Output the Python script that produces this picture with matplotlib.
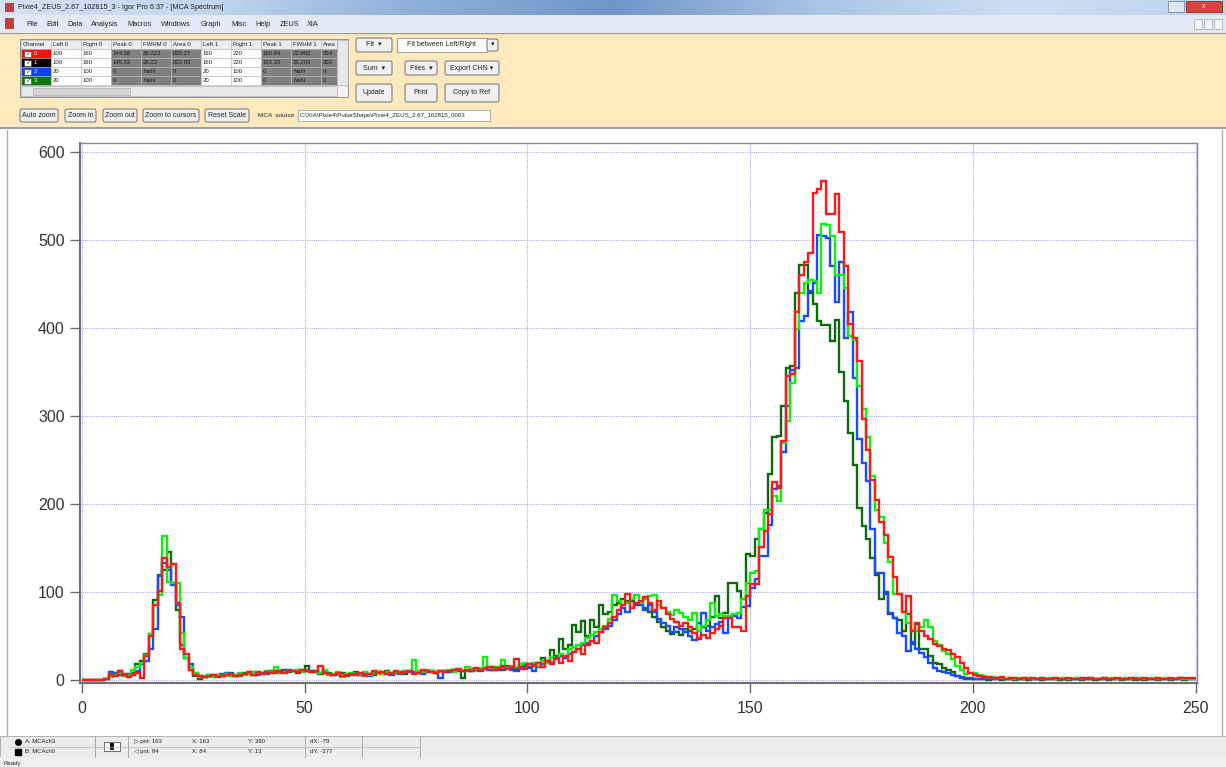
import numpy as np
import matplotlib
matplotlib.use("Agg")
import matplotlib.pyplot as plt
from matplotlib.patches import Rectangle, FancyBboxPatch
from matplotlib.colors import LinearSegmentedColormap

plt.rcParams['font.family'] = ['Liberation Sans', 'DejaVu Sans']

W, H = 1226, 767

# MCA spectra, counts per channel (bins 0..249)
ch0_red = [
    0, 0, 0, 0, 0, 2, 7, 5, 10, 6,
    4, 6, 8, 3, 28, 50, 85, 102, 139, 129,
    132, 88, 36, 30, 12, 6, 5, 4, 5, 6,
    4, 5, 6, 7, 5, 6, 7, 9, 6, 8,
    7, 9, 8, 10, 9, 8, 11, 10, 9, 12,
    10, 9, 11, 16, 8, 7, 6, 8, 5, 6,
    7, 6, 8, 5, 7, 10, 8, 9, 7, 8,
    10, 8, 9, 11, 7, 8, 12, 10, 9, 8,
    11, 9, 10, 12, 13, 10, 12, 11, 14, 12,
    13, 15, 12, 14, 16, 13, 15, 24, 14, 13,
    18, 16, 20, 15, 22, 18, 25, 20, 28, 22,
    32, 35, 30, 40, 45, 42, 55, 60, 65, 72,
    80, 85, 98, 82, 88, 90, 95, 88, 80, 90,
    82, 75, 70, 66, 62, 65, 60, 54, 48, 52,
    48, 54, 58, 62, 71, 71, 60, 60, 56, 96,
    109, 109, 151, 170, 189, 225, 219, 272, 346, 348,
    418, 461, 475, 486, 554, 558, 567, 530, 530, 553,
    509, 471, 405, 389, 363, 297, 262, 228, 205, 180,
    165, 140, 117, 98, 78, 96, 56, 65, 56, 50,
    47, 41, 39, 36, 34, 30, 26, 20, 14, 8,
    6, 5, 4, 4, 3, 3, 4, 2, 3, 3,
    2, 3, 2, 3, 2, 3, 2, 2, 3, 2,
    2, 3, 2, 2, 3, 2, 3, 2, 2, 3,
    2, 2, 3, 2, 2, 3, 2, 2, 3, 2,
    2, 3, 2, 2, 3, 2, 3, 3, 3, 3,
]
ch2_blue = [
    0, 0, 0, 0, 0, 2, 9, 8, 6, 5,
    7, 6, 10, 18, 22, 36, 58, 118, 133, 125,
    108, 86, 72, 25, 18, 8, 5, 4, 6, 5,
    5, 6, 8, 7, 5, 6, 8, 7, 9, 6,
    8, 7, 9, 10, 8, 11, 12, 10, 9, 11,
    12, 10, 9, 8, 10, 7, 6, 7, 5, 6,
    6, 8, 6, 7, 5, 8, 9, 7, 8, 6,
    8, 7, 10, 9, 8, 9, 7, 9, 10, 8,
    3, 10, 9, 11, 12, 10, 11, 13, 12, 11,
    14, 12, 13, 12, 15, 14, 12, 10, 13, 15,
    14, 10, 15, 18, 22, 20, 24, 28, 25, 30,
    32, 35, 40, 42, 45, 50, 55, 58, 62, 68,
    75, 82, 78, 82, 88, 85, 80, 85, 78, 70,
    65, 62, 55, 60, 58, 55, 50, 46, 47, 77,
    56, 60, 64, 66, 54, 71, 73, 71, 83, 84,
    105, 115, 141, 141, 177, 217, 221, 259, 312, 353,
    355, 408, 414, 442, 451, 506, 505, 503, 471, 430,
    475, 389, 418, 344, 274, 247, 227, 172, 122, 122,
    98, 77, 71, 54, 50, 33, 43, 35, 31, 26,
    20, 14, 11, 9, 8, 6, 5, 4, 3, 3,
    2, 2, 3, 2, 1, 2, 2, 1, 2, 2,
    1, 2, 3, 2, 1, 2, 2, 1, 2, 1,
    2, 1, 2, 2, 1, 3, 2, 1, 2, 2,
    1, 2, 2, 1, 2, 2, 3, 2, 1, 2,
    2, 1, 2, 1, 2, 2, 3, 2, 1, 1,
]
ref_green = [
    0, 0, 0, 0, 0, 1, 4, 6, 9, 5,
    6, 12, 15, 20, 29, 53, 86, 97, 164, 112,
    110, 111, 54, 25, 15, 8, 4, 5, 6, 4,
    6, 5, 7, 5, 6, 8, 6, 7, 9, 8,
    7, 10, 9, 15, 8, 9, 11, 10, 12, 9,
    11, 9, 10, 8, 12, 6, 7, 9, 4, 7,
    8, 6, 7, 9, 6, 8, 10, 7, 9, 8,
    9, 8, 10, 11, 23, 10, 9, 12, 10, 8,
    11, 10, 12, 9, 13, 11, 15, 12, 13, 14,
    26, 15, 13, 15, 23, 14, 16, 15, 18, 20,
    18, 20, 16, 22, 20, 26, 25, 30, 28, 35,
    38, 40, 42, 48, 52, 55, 58, 62, 70, 97,
    90, 85, 88, 92, 97, 88, 92, 96, 97, 85,
    82, 78, 74, 80, 76, 72, 68, 77, 56, 62,
    69, 88, 73, 75, 73, 73, 75, 77, 92, 111,
    122, 124, 172, 194, 194, 209, 204, 270, 295, 338,
    399, 440, 452, 455, 454, 440, 519, 517, 505, 461,
    461, 446, 391, 387, 334, 308, 276, 232, 194, 185,
    156, 134, 98, 98, 79, 65, 56, 56, 60, 69,
    60, 45, 40, 33, 30, 24, 16, 12, 7, 8,
    8, 6, 5, 4, 4, 3, 3, 2, 3, 2,
    3, 2, 3, 2, 2, 3, 2, 3, 2, 2,
    3, 2, 2, 3, 2, 2, 3, 2, 2, 3,
    2, 3, 2, 2, 3, 2, 2, 3, 2, 2,
    3, 2, 2, 3, 2, 2, 3, 2, 2, 2,
]
ch3_darkgreen = [
    0, 0, 0, 0, 0, 1, 5, 7, 11, 7,
    5, 8, 18, 22, 30, 53, 91, 120, 125, 146,
    110, 80, 40, 25, 12, 5, 1, 4, 5, 6,
    5, 7, 6, 8, 6, 5, 7, 8, 6, 9,
    8, 9, 10, 8, 11, 12, 9, 10, 8, 12,
    16, 10, 9, 7, 11, 8, 6, 7, 8, 5,
    7, 9, 6, 8, 7, 6, 9, 8, 10, 7,
    8, 9, 7, 10, 9, 8, 11, 9, 10, 8,
    10, 11, 9, 12, 10, 3, 12, 11, 13, 12,
    14, 12, 15, 13, 12, 16, 14, 13, 15, 17,
    15, 18, 20, 25, 22, 34, 28, 47, 35, 40,
    63, 55, 67, 50, 69, 60, 86, 75, 78, 85,
    88, 92, 90, 90, 86, 88, 82, 78, 72, 66,
    60, 56, 53, 55, 52, 58, 56, 58, 65, 60,
    62, 72, 96, 71, 77, 111, 111, 101, 92, 143,
    141, 160, 172, 190, 234, 276, 278, 312, 355, 357,
    440, 472, 472, 440, 428, 408, 404, 404, 386, 410,
    350, 317, 281, 245, 196, 175, 160, 139, 120, 92,
    100, 75, 71, 69, 56, 75, 41, 64, 35, 35,
    28, 20, 18, 14, 12, 9, 5, 3, 2, 2,
    1, 2, 1, 0, 1, 1, 0, 1, 1, 0,
    1, 1, 0, 1, 1, 0, 1, 1, 1, 0,
    1, 0, 1, 1, 0, 1, 1, 0, 1, 1,
    0, 1, 1, 0, 1, 1, 0, 1, 0, 1,
    1, 0, 1, 1, 0, 1, 1, 0, 1, 1,
]

x_ticks = [0, 50, 100, 150, 200, 250]
y_ticks = [0, 100, 200, 300, 400, 500, 600]

fig = plt.figure(figsize=(W / 100, H / 100), dpi=100)

# --- window chrome drawn in pixel coordinates ---
ui = fig.add_axes([0, 0, 1, 1], zorder=0)
ui.set_xlim(0, W)
ui.set_ylim(H, 0)
ui.axis('off')


def box(x0, y0, x1, y1, fc, ec='#8c8c8c', lw=0.6):
    ui.add_patch(Rectangle((x0, y0), x1 - x0, y1 - y0, facecolor=fc, edgecolor=ec, linewidth=lw))


def txt(x, y, s, size=5.0, color='#222222', **kw):
    ui.text(x, y, s, fontsize=size, color=color, va='center', **kw)


def button(x0, y0, x1, y1, s, size=5.0):
    ui.add_patch(FancyBboxPatch((x0, y0), x1 - x0, y1 - y0, boxstyle='round,pad=0,rounding_size=2',
                                facecolor='#f0f0f0', edgecolor='#707070', linewidth=0.7))
    txt((x0 + x1) / 2, (y0 + y1) / 2, s, size=size, ha='center')


# title bar (soft blue gradient) + menu bar
title_cmap = LinearSegmentedColormap.from_list(
    'tb', ['#d3e2f5', '#c2d6f0', '#8fb0db', '#6f95c9', '#a9c4e6', '#cfdff3', '#bcd2ee'])
ui.imshow(np.linspace(0, 1, 256)[None, :], cmap=title_cmap, aspect='auto',
          extent=[0, W, 15, 0], zorder=0)
ui.set_xlim(0, W)
ui.set_ylim(H, 0)
txt(18, 7.5, 'Pixie4_ZEUS_2.67_102815_3 - Igor Pro 6.37 - [MCA Spectrum]', size=5.2)
box(5, 3, 14, 12, '#c04040', ec='none')
box(1168, 1, 1184, 12, '#dde6f2', ec='#7a8aa0')
box(1186, 1, 1222, 12, '#d9443a', ec='#8a2a22')
txt(1204, 6.5, 'x', size=5, color='white', ha='center')
box(0, 15, W, 32, '#e3e9f5', ec='none')
menu = ['File', 'Edit', 'Data', 'Analysis', 'Macros', 'Windows', 'Graph', 'Misc', 'Help', 'ZEUS', 'XIA']
menu_x = [26, 46, 67, 91, 127, 161, 201, 231, 255, 280, 307]
box(5, 18, 14, 29, '#c04040', ec='none')
for name, mx in zip(menu, menu_x):
    txt(mx, 24, name, size=5.3)
for bx in (1198, 1208, 1218):
    box(bx - 4, 19, bx + 4, 29, '#f4f6fa', ec='#9aa6b8', lw=0.5)

# control panel
box(0, 33, W, 128, '#ffeabf', ec='none')
ui.plot([0, W], [33, 33], color='#9a9a9a', lw=1)
ui.plot([0, W], [128, 128], color='#a0a0a0', lw=1.5)

# table
cols = ['Channel', 'Left 0', 'Right 0', 'Peak 0', 'FWHM 0', 'Area 0', 'Left 1', 'Right 1', 'Peak 1', 'FWHM 1', 'Area']
gray_cols = {3, 4, 5, 8, 9, 10}
rows = [
    ['0', '100', '160', '144.58', '29.223', '835.27', '160', '220', '190.84', '22.992', '294'],
    ['1', '100', '160', '145.53', '28.22', '822.83', '160', '220', '192.35', '23.205', '292'],
    ['2', '20', '100', '0', 'NaN', '0', '20', '100', '0', 'NaN', '0'],
    ['3', '20', '100', '0', 'NaN', '0', '20', '100', '0', 'NaN', '0'],
]
row_colors = ['#ff1010', '#000000', '#1040ff', '#0a7a0a']
box(20, 39, 348, 97, '#f4f4f4', ec='#808080')
for j, c in enumerate(cols):
    x0 = 21 + 30 * j
    w = 30 if j < 10 else 16
    box(x0, 40, x0 + w, 49, '#ececec', ec='#b0b0b0', lw=0.4)
    txt(x0 + 2, 44.5, c, size=4.3)
for i, r in enumerate(rows):
    y0 = 49 + 9 * i
    for j, v in enumerate(r):
        x0 = 21 + 30 * j
        w = 30 if j < 10 else 16
        if j == 0:
            box(x0, y0, x0 + w, y0 + 9, row_colors[i], ec='#b0b0b0', lw=0.4)
            box(x0 + 3, y0 + 1.5, x0 + 10, y0 + 7.5, 'white', ec='#333333', lw=0.4)
            txt(x0 + 6.5, y0 + 4.5, '\u2713', size=4.5, ha='center')
            txt(x0 + 13, y0 + 4.5, v, size=4.3, color='white')
        else:
            fc = '#808080' if j in gray_cols else 'white'
            box(x0, y0, x0 + w, y0 + 9, fc, ec='#b8b8b8', lw=0.4)
            txt(x0 + 2, y0 + 4.5, v, size=4.3)
box(337, 40, 348, 85, '#e8e8e8', ec='#a0a0a0', lw=0.4)
box(21, 86, 337, 96, '#e8e8e8', ec='#a0a0a0', lw=0.4)
box(33, 87.5, 130, 94.5, '#d6d6d6', ec='#a0a0a0', lw=0.4)

# buttons
button(356, 38, 392, 52, 'Fit  \u25be')
box(397, 38, 487, 52, 'white', ec='#909090')
txt(407, 45, 'Fit between Left/Right', size=5.0)
button(487, 39, 498, 51, '\u25be')
button(356, 61, 392, 75, 'Sum  \u25be')
button(405, 61, 437, 75, 'Files  \u25be')
button(445, 61, 499, 75, 'Export CHN \u25be')
button(356, 84, 392, 102, 'Update')
button(405, 84, 437, 102, 'Print')
button(445, 84, 499, 102, 'Copy to Ref')
button(20, 109, 58, 122, 'Auto zoom')
button(65, 109, 96, 122, 'Zoom in')
button(103, 109, 137, 122, 'Zoom out')
button(143, 109, 199, 122, 'Zoom to cursors')
button(205, 109, 249, 122, 'Reset Scale')
txt(258, 115.5, 'MCA  source', size=4.6)
box(298, 110, 490, 121, 'white', ec='#a0a0a0')
txt(300, 115.5, 'C:\\XIA\\Pixie4\\PulseShape\\Pixie4_ZEUS_2.67_102815_0003', size=4.4)

# window border and status bar
ui.plot([7, 7], [130, 736], color='#b0b0b0', lw=1)
ui.plot([1222, 1222], [130, 736], color='#b0b0b0', lw=1)
box(0, 736, W, 757, '#ececec', ec='#a8a8a8', lw=0.6)
box(0, 757, W, H, '#f0f0f0', ec='none')
for sx in (95, 128, 305, 362, 420):
    ui.plot([sx, sx], [736, 757], color='#a0a0a0', lw=0.6)
ui.plot([10, 420], [746.5, 746.5], color='#b8b8b8', lw=0.5)
ui.plot([18], [741.5], marker='o', color='black', ms=4)
ui.plot([18], [751.5], marker='s', color='black', ms=4)
txt(25, 741.5, 'A: MCAch3', size=4.3)
txt(25, 751.5, 'B: MCAch0', size=4.3)
box(104, 742, 120, 751, 'white', ec='#555555', lw=0.6)
box(110, 743, 114, 750, '#111111', ec='none')
txt(134, 741.5, '\u25b7 pnt: 163', size=4.3)
txt(134, 751.5, '\u25c1 pnt: 84', size=4.3)
txt(192, 741.5, 'X: 163', size=4.3)
txt(192, 751.5, 'X: 84', size=4.3)
txt(248, 741.5, 'Y: 390', size=4.3)
txt(248, 751.5, 'Y: 13', size=4.3)
txt(310, 741.5, 'dX: -79', size=4.3)
txt(310, 751.5, 'dY: -377', size=4.3)
txt(4, 763, 'Ready', size=4.3)

# --- the spectrum plot ---
left, right, top, bottom = 80, 1197, 143, 683
ax = fig.add_axes([left / W, 1 - bottom / H, (right - left) / W, (bottom - top) / H], zorder=2)
ax.set_facecolor('white')

edges = np.arange(len(ch0_red) + 1)
for vals, col in [(ch3_darkgreen, '#0b6b0b'), (ch2_blue, '#1a4cff'),
                  (ref_green, '#10f010'), (ch0_red, '#ff1a1a')]:
    ax.stairs(vals, edges, color=col, linewidth=1.7, baseline=None)

ax.set_xlim(-0.45, 250.3)
ax.set_ylim(-3.1, 610.6)
ax.set_xticks(x_ticks)
ax.set_yticks(y_ticks)
ax.grid(True, color='#a8a8ff', linestyle=(0, (1, 1)), linewidth=0.8)
ax.set_axisbelow(True)
ax.tick_params(axis='both', direction='out', length=7, width=1, color='#666666',
               labelsize=11.5, labelcolor='#333333')
ax.tick_params(axis='x', pad=6)
ax.tick_params(axis='y', pad=4)
for side in ('left', 'bottom'):
    ax.spines[side].set_color('#6e6e6e')
    ax.spines[side].set_linewidth(1.5)
for side in ('top', 'right'):
    ax.spines[side].set_color('#8a8a8a')
    ax.spines[side].set_linewidth(1.0)

fig.savefig('out.png', dpi=100)
